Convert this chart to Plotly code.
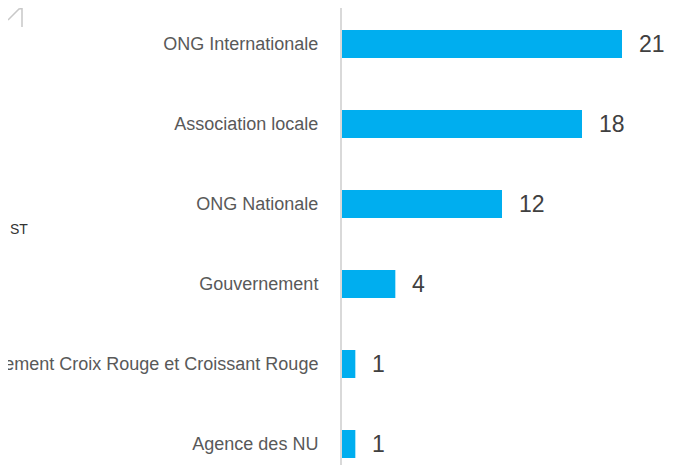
import plotly.graph_objects as go

categories = ["Agence des NU", "Mouvement Croix Rouge et Croissant Rouge", "Gouvernement",
              "ONG Nationale", "Association locale", "ONG Internationale"]
values = [1, 1, 4, 12, 18, 21]

FONT = "Liberation Sans Narrow, Arial Narrow, Liberation Sans, Arial, sans-serif"

W, H = 676, 457   # page body adds an 8px offset
L = 334

fig = go.Figure()
fig.add_trace(go.Bar(
    x=values, y=categories, orientation="h",
    marker=dict(color="#00AEEF", line=dict(width=0)),
    width=0.35, hoverinfo="skip",
))

for v, c in zip(values, categories):
    fig.add_annotation(x=v, y=c, text=str(v), xref="x", yref="y",
                       xanchor="left", yanchor="middle", xshift=15, showarrow=False,
                       font=dict(family=FONT, size=23, color="#404040"))


def px(wx):
    return (wx - 8 - L) / (W - L)


def py(wy):
    return 1 - (wy - 8) / H


fig.add_annotation(x=px(8), y=py(229), xref="paper", yref="paper", text="ST",
                   showarrow=False, xanchor="left", yanchor="middle",
                   font=dict(family="Liberation Sans, Arial, sans-serif", size=14, color="#333333"))

fig.add_shape(type="path", xref="paper", yref="paper",
              path=f"M {px(8)} {py(20)} L {px(19)} {py(9)} L {px(22)} {py(8.5)} L {px(22)} {py(27)}",
              line=dict(color="#C8C8C8", width=1.5))

fig.update_layout(
    width=W, height=H,
    margin=dict(l=L, r=0, t=0, b=0),
    paper_bgcolor="white", plot_bgcolor="white",
    showlegend=False,
    xaxis=dict(range=[0, 25.65], visible=False, fixedrange=True),
    yaxis=dict(
        type="category", categoryorder="array", categoryarray=categories,
        range=[-0.2625, 5.45], automargin=False,
        showline=True, linecolor="#D9D9D9", linewidth=2,
        showgrid=False, ticks="", ticklabelstandoff=18,
        tickfont=dict(family=FONT, size=18, color="#595959"),
    ),
)

fig.write_html("out.html")
